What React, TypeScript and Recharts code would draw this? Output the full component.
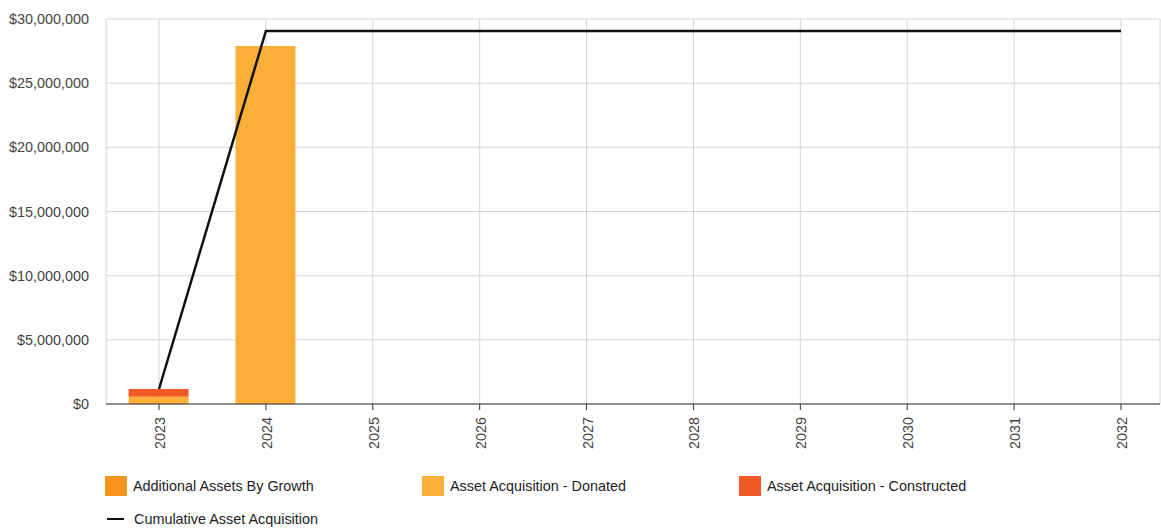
import React from 'react';
import {
  ComposedChart,
  Bar,
  Line,
  XAxis,
  YAxis,
  CartesianGrid,
} from 'recharts';

// Yearly asset acquisition figures
const years = [2023, 2024, 2025, 2026, 2027, 2028, 2029, 2030, 2031, 2032];
const additionalByGrowth = [0, 0, 0, 0, 0, 0, 0, 0, 0, 0];
const acquisitionDonated = [570000, 27900000, 0, 0, 0, 0, 0, 0, 0, 0];
const acquisitionConstructed = [600000, 0, 0, 0, 0, 0, 0, 0, 0, 0];
const cumulativeAcquisition = [
  1170000, 29070000, 29070000, 29070000, 29070000, 29070000, 29070000, 29070000, 29070000, 29070000,
];
const yTicks = [0, 5000000, 10000000, 15000000, 20000000, 25000000, 30000000];

const COLORS = {
  growth: '#F7941D',
  donated: '#F9AF38',
  constructed: '#F15A24',
  cumulative: '#111111',
};

const barSeries = [
  { key: 'growth', name: 'Additional Assets By Growth', color: COLORS.growth },
  { key: 'donated', name: 'Asset Acquisition - Donated', color: COLORS.donated },
  { key: 'constructed', name: 'Asset Acquisition - Constructed', color: COLORS.constructed },
];

const data = years.map((year, i) => ({
  year,
  growth: additionalByGrowth[i],
  donated: acquisitionDonated[i],
  constructed: acquisitionConstructed[i],
  cumulative: cumulativeAcquisition[i],
}));

const FONT = 'Arial, "Liberation Sans", sans-serif';
const TEXT_SIZE = 14.4;

const formatMoney = (v: number) => '$' + v.toLocaleString('en-US');

const YearTick = (props: any) => {
  const { x, y, payload } = props;
  return (
    <text
      x={0}
      y={0}
      transform={`translate(${x + 6},${y + 5}) rotate(-90)`}
      textAnchor="end"
      fontSize={TEXT_SIZE}
      fontFamily={FONT}
      fill="#444"
    >
      {payload.value}
    </text>
  );
};

const Legend = () => (
  <div
    style={{
      position: 'absolute',
      left: 105,
      top: 474,
      width: 1000,
      fontFamily: FONT,
      fontSize: TEXT_SIZE,
      color: '#222',
    }}
  >
    <div style={{ display: 'flex', height: 24, alignItems: 'center' }}>
      {barSeries.map((s) => (
        <div key={s.key} style={{ width: 317, display: 'flex', alignItems: 'center' }}>
          <span
            style={{ display: 'inline-block', width: 22, height: 20, background: s.color, marginRight: 6 }}
          />
          <span>{s.name}</span>
        </div>
      ))}
    </div>
    <div style={{ display: 'flex', alignItems: 'center', marginTop: 13 }}>
      <span
        style={{
          display: 'inline-block',
          width: 17,
          height: 1.5,
          background: COLORS.cumulative,
          marginLeft: 2,
          marginRight: 10,
        }}
      />
      <span>Cumulative Asset Acquisition</span>
    </div>
  </div>
);

export default function App() {
  return (
    <div style={{ position: 'absolute', left: 0, top: 0, width: 1161, height: 528, background: '#fff' }}>
      <ComposedChart
        width={1161}
        height={470}
        data={data}
        margin={{ top: 19, right: 1, bottom: 0, left: 0 }}
      >
        <CartesianGrid stroke="#d6d6d6" strokeWidth={1} />
        <XAxis
          dataKey="year"
          type="number"
          domain={[2022.504, 2032.365]}
          ticks={years}
          allowDataOverflow
          interval={0}
          height={66}
          tick={<YearTick />}
          tickSize={6}
          axisLine={{ stroke: '#333', strokeWidth: 1 }}
          tickLine={{ stroke: '#333' }}
        />
        <YAxis
          width={106}
          domain={[0, 30000000]}
          ticks={yTicks}
          tickFormatter={formatMoney}
          axisLine={false}
          tickLine={false}
          tickSize={6}
          tickMargin={11}
          tick={{ fontSize: TEXT_SIZE, fontFamily: FONT, fill: '#444' }}
        />
        {barSeries.map((s) => (
          <Bar
            key={s.key}
            dataKey={s.key}
            name={s.name}
            stackId="a"
            fill={s.color}
            barSize={60}
            isAnimationActive={false}
          />
        ))}
        <Line
          dataKey="cumulative"
          name="Cumulative Asset Acquisition"
          type="linear"
          stroke={COLORS.cumulative}
          strokeWidth={2.5}
          dot={false}
          activeDot={false}
          isAnimationActive={false}
        />
      </ComposedChart>
      <Legend />
    </div>
  );
}
